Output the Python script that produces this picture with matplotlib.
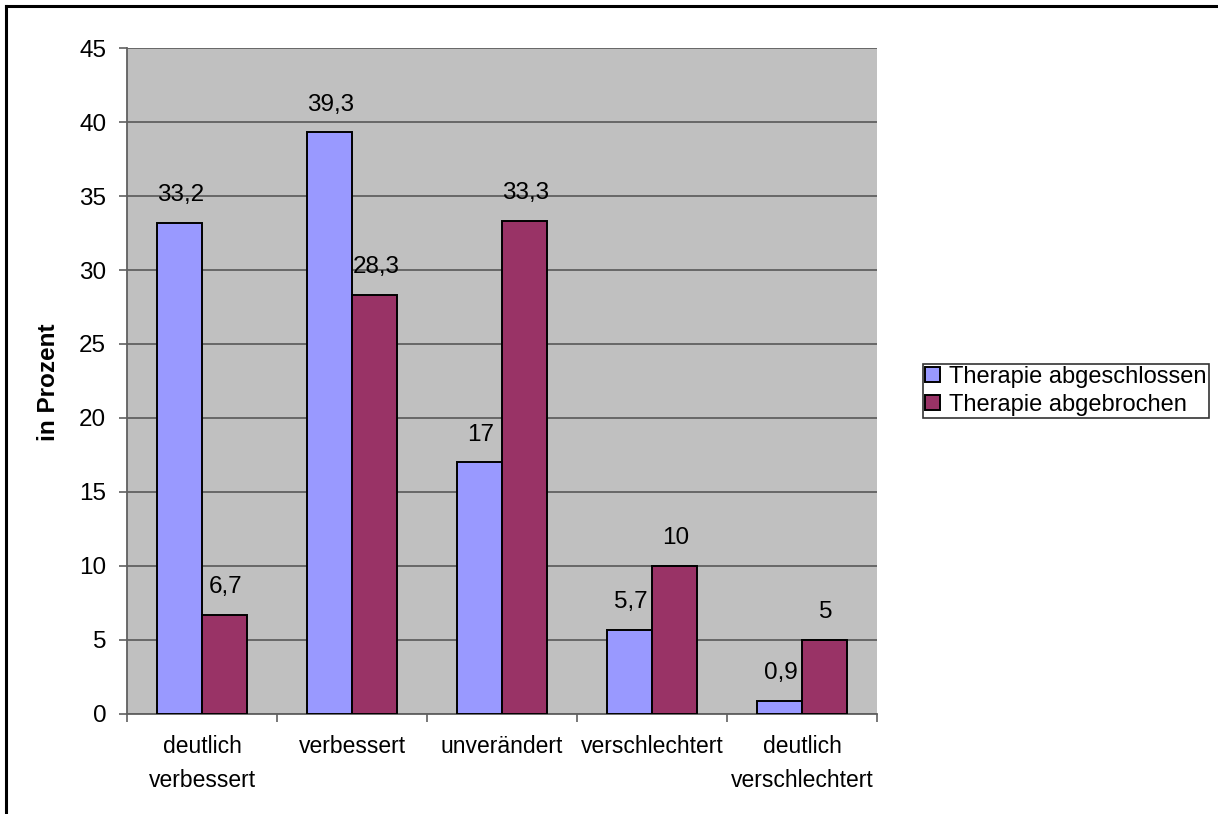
import matplotlib.pyplot as plt
import numpy as np
from matplotlib.lines import Line2D

plt.rcParams['font.family'] = ['Liberation Sans', 'DejaVu Sans']

kategorien = ['deutlich\nverbessert', 'verbessert', 'unverändert',
              'verschlechtert', 'deutlich\nverschlechtert']
abgeschlossen = [33.2, 39.3, 17, 5.7, 0.9]
abgebrochen = [6.7, 28.3, 33.3, 10, 5]
labels_abgeschlossen = ['33,2', '39,3', '17', '5,7', '0,9']
labels_abgebrochen = ['6,7', '28,3', '33,3', '10', '5']
serien = ['Therapie abgeschlossen', 'Therapie abgebrochen']

fig = plt.figure(figsize=(12.18, 8.14), dpi=100)
# Rahmen oben und links (rechts/unten abgeschnitten)
fig.lines.append(Line2D([6 / 1218, 6 / 1218], [0, 1 - 6 / 814], transform=fig.transFigure,
                        color='black', linewidth=2.2))
fig.lines.append(Line2D([6 / 1218, 1], [1 - 6 / 814, 1 - 6 / 814], transform=fig.transFigure,
                        color='black', linewidth=2.2))

ax = fig.add_axes([0.1043, 0.1229, 0.6157, 0.8181])
ax.set_facecolor('#C0C0C0')

x = np.arange(len(kategorien))
b = 0.3
b1 = ax.bar(x - b / 2, abgeschlossen, b, color='#9999FF', edgecolor='black',
            linewidth=1.4, label=serien[0], zorder=3)
b2 = ax.bar(x + b / 2, abgebrochen, b, color='#993366', edgecolor='black',
            linewidth=1.4, label=serien[1], zorder=3)

for bars, labs in [(b1, labels_abgeschlossen), (b2, labels_abgebrochen)]:
    for rect, lab in zip(bars, labs):
        ax.annotate(lab, (rect.get_x() + rect.get_width() / 2, rect.get_height()),
                    xytext=(1, 20), textcoords='offset points', ha='center',
                    va='center', fontsize=17.5, zorder=4)

ax.set_xlim(-0.5, 4.5)
ax.set_ylim(0, 45)
ax.set_yticks(range(0, 46, 5))
ax.yaxis.grid(True, color='#606060', linewidth=1.3, zorder=0)
ax.set_axisbelow(True)

ax.set_xticks(np.arange(-0.5, 5, 1))
ax.set_xticklabels([])
ax.set_xticks(x, minor=True)
ax.set_xticklabels(kategorien, minor=True, fontsize=16.5, linespacing=1.6)
ax.tick_params(axis='x', which='minor', length=0, pad=15)
ax.tick_params(axis='x', which='major', length=6, color='#606060', width=1.2)
ax.tick_params(axis='y', length=6, color='#606060', width=1.2, labelsize=17.5, pad=9)

for s in ['top', 'right']:
    ax.spines[s].set_visible(False)
ax.spines['left'].set_color('#606060')
ax.spines['bottom'].set_color('#606060')
ax.spines['left'].set_linewidth(1.3)
ax.spines['bottom'].set_linewidth(1.3)

ax.set_ylabel('in Prozent', fontsize=17.5, fontweight='bold')
ax.yaxis.set_label_coords(60 / 1218, 1 - 382 / 814, transform=fig.transFigure)

leg = ax.legend(loc='center left', bbox_to_anchor=(923 / 1218, 1 - 391 / 814),
                bbox_transform=fig.transFigure,
                fontsize=17, frameon=True, fancybox=False, edgecolor='black',
                handlelength=0.6, handleheight=0.6, handletextpad=0.4,
                borderpad=0.1, labelspacing=0.25, borderaxespad=0)
leg.get_frame().set_linewidth(1.2)

fig.savefig('out.png', dpi=100)
